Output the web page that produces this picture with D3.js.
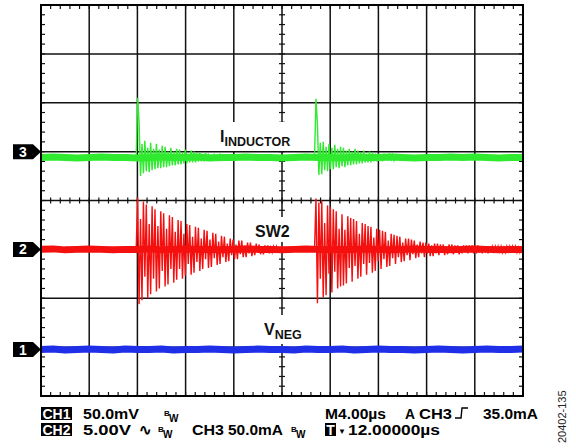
<!DOCTYPE html>
<html>
<head>
<meta charset="utf-8">
<script src="https://cdn.jsdelivr.net/npm/d3@7"></script>
<style>
  body { margin: 0; background: #fff; }
  svg { display: block; }
  text { font-family: "Liberation Sans", Arial, sans-serif; }
</style>
</head>
<body>
<svg width="576" height="448"></svg>
<script>
// scope settings: 4us/div, 10 x 8 divisions
var timeDomain = [0, 40];
var divDomain = [-4, 4];

// channels 1,2,3: units per div, ground marker (divs), colour
var chNames = ["1", "2", "3"];
var chScale = [50, 5, 50];      // mV, V, mA per div
var chGround = [-3.05, -1.0, 1.0];
var chColor = ["#1f2fe8", "#f51010", "#2fea2f"];

// baseline (noise band centre) sampled every 1us, t = 0..40
var vnegBase = [0,0.5,-0.5,0,0.5,0,-0.5,0.5,0,0,0.5,-0.5,0,0,0.5,0,-0.5,0,0.5,0,0,-0.5,0.5,0,0,0.5,-0.5,0,0.5,0,0,-0.5,0,0.5,0,-0.5,0,0.5,0,0,0.5];
var sw2Base = [0,0.05,-0.05,0,0.05,0,-0.05,0,0,0.05,-0.05,0,0.05,0,0,-0.05,0,0.05,0,0,-0.05,0,0.05,0,-0.05,0,0,0.05,0,-0.05,0,0.05,0,0,-0.05,0,0.05,0,-0.05,0,0];
var indBase = [-6,-5.5,-6,-6.5,-6,-5.5,-6,-6,-6.5,-6,-5.5,-6,-6,-5.5,-6.5,-6,-6,-5.5,-6,-6,-6.5,-6,-5.5,-6,-6,-6.5,-5.5,-6,-6,-5.5,-6,-6.5,-6,-6,-5.5,-6,-5.5,-6,-6.5,-6,-6];

// ringing after each switching edge, one sample per half period
var ringStep = 0.12;
var burstStart = [7.9, 22.7];
var sw2Burst1 = [
  0,5.3,-5.6,3.1,-5.2,4.9,-2.8,4.6,-5.0,2.6,
  -4.6,4.4,-3.0,4.1,-4.3,2.4,-4.0,3.9,-2.2,3.7,
  -3.8,2.1,-3.6,3.5,-2.0,3.3,-3.4,1.8,-3.1,3.0,
  -2.0,2.9,-3.0,1.6,-2.7,2.6,-1.5,2.5,-2.6,1.3,
  -2.4,2.3,-1.3,2.2,-2.2,1.1,-2.0,2.0,-1.0,1.9,
  -1.9,1.0,-1.8,1.7,-0.9,1.6,-1.6,0.8,-1.5,1.4,
  -0.8,1.3,-1.3,0.6,-1.2,1.1,-0.6,1.0,-1.0,0.5,
  -1.0,0.9,-0.5,0.9,-0.8,0.4,-0.8,0.7,-0.4,0.7,
  -0.7,0.3,-0.6,0.6,-0.3,0.5,-0.5,0.3,-0.5,0.4,
  -0.2,0.4,-0.4,0.2,-0.3,0.3,-0.2,0.3,-0.2,0];
var sw2Burst2 = [
  0,5.2,-5.5,4.8,-3.0,5.0,-4.9,2.7,-4.7,4.5,
  -2.5,4.3,-4.4,4.1,-2.3,3.9,-4.0,2.1,-3.8,3.6,
  -3.7,2.0,-3.5,3.4,-1.9,3.2,-3.3,3.1,-1.7,2.9,
  -3.0,1.6,-2.8,2.7,-1.5,2.6,-2.6,2.4,-1.4,2.3,
  -2.4,1.2,-2.2,2.1,-1.2,2.0,-2.0,1.9,-1.0,1.8,
  -1.8,0.9,-1.7,1.6,-0.9,1.5,-1.5,1.4,-0.8,1.3,
  -1.3,0.7,-1.2,1.1,-0.6,1.1,-1.1,1.0,-0.5,0.9,
  -0.9,0.5,-0.8,0.8,-0.4,0.7,-0.8,0.7,-0.4,0.6,
  -0.7,0.4,-0.7,0.6,-0.4,0.6,-0.6,0.5,-0.3,0.5,
  -0.6,0.3,-0.5,0.5,-0.3,0.5,-0.5,0.4,-0.3,0.4,
  -0.5,0.3,-0.4,0.4,-0.3,0.4,-0.4,0.4,-0.2,0.4,
  -0.4,0.2,-0.4,0.4,-0.3,0.3,-0.4,0.3,-0.2,0.3,
  -0.4,0.3,-0.3,0.3,-0.2,0.3,-0.3,0.3,-0.2,0.3,
  -0.3,0.2,-0.3,0.3,-0.2,0.3,-0.3,0.3,-0.2,0.3,
  -0.3,0.2,-0.3,0.2,-0.1];
var indBurst1 = [
  -6,55,30,-25,8,-22,11,-20,4,-21,
  9,-19,3,-18,8,-17,2,-17,6,-16,
  5,-16,0,-15,4,-14,0,-14,3,-13,
  2,-13,-1,-12,2,-12,-2,-11,1,-11,
  0,-11,-2,-10,-1,-10,-3,-10,-1,-9,
  -2,-9,-3,-9,-2,-9,-4,-8,-3,-8,
  -4,-8,-4,-7,-4,-8,-5,-7,-5,-7];
var indBurst2 = [
  -6,54,28,-24,9,-23,10,-19,5,-20,
  8,-18,4,-18,7,-16,3,-17,5,-15,
  4,-16,1,-14,3,-14,0,-13,3,-13,
  1,-12,-1,-12,1,-11,-2,-11,0,-11,
  -1,-10,-2,-10,-2,-9,-3,-10,-2,-9,
  -3,-9,-3,-8,-3,-9,-4,-8,-4,-8,
  -4,-7,-5,-8,-5,-7,-5,-7,-6,-7];

var svg = d3.select("svg");
var x = d3.scaleLinear().domain(timeDomain).range([41, 523]);
var y = d3.scaleLinear().domain(divDomain).range([396, 5]);

// graticule
var grid = svg.append("g").attr("stroke", "#111").attr("stroke-width", 1.5);
grid.selectAll(".vx").data(d3.range(1, 10)).enter().append("line")
  .attr("x1", d => x(d * 4)).attr("x2", d => x(d * 4))
  .attr("y1", y(4)).attr("y2", y(-4));
grid.selectAll(".hy").data(d3.range(-3, 4)).enter().append("line")
  .attr("y1", d => y(d)).attr("y2", d => y(d))
  .attr("x1", x(0)).attr("x2", x(40));

// minor ticks, 5 per division
var ticks = svg.append("g").attr("stroke", "#111").attr("stroke-width", 1.2);
var tx = d3.range(0.8, 40, 0.8), ty = d3.range(-3.8, 4, 0.2);
tx.forEach(function(t) {
  ticks.append("line").attr("x1", x(t)).attr("x2", x(t)).attr("y1", y(4)).attr("y2", y(4) + 4);
  ticks.append("line").attr("x1", x(t)).attr("x2", x(t)).attr("y1", y(-4)).attr("y2", y(-4) - 4);
  ticks.append("line").attr("x1", x(t)).attr("x2", x(t)).attr("y1", y(0) - 3).attr("y2", y(0) + 3);
});
ty.forEach(function(v) {
  ticks.append("line").attr("y1", y(v)).attr("y2", y(v)).attr("x1", x(0)).attr("x2", x(0) + 4);
  ticks.append("line").attr("y1", y(v)).attr("y2", y(v)).attr("x1", x(40)).attr("x2", x(40) - 4);
  ticks.append("line").attr("y1", y(v)).attr("y2", y(v)).attr("x1", x(20) - 3).attr("x2", x(20) + 3);
});

// trace labels (white box behind)
var labels = svg.append("g");
function traceLabel(px, py, main, sub) {
  var g = labels.append("g");
  var bg = g.append("rect").attr("fill", "#fff");
  var t = g.append("text").attr("x", px).attr("y", py)
    .attr("font-weight", "bold").attr("font-size", 16).attr("fill", "#111");
  t.append("tspan").text(main);
  if (sub) t.append("tspan").attr("font-size", 12.5).attr("dy", 4).text(sub);
  var b = t.node().getBBox();
  bg.attr("x", b.x - 2).attr("y", b.y - 6).attr("width", b.width + 4).attr("height", b.height + 8);
}
traceLabel(220, 142, "I", "INDUCTOR");
traceLabel(255, 237, "SW2", null);
traceLabel(264, 335, "V", "NEG");

// traces
svg.append("clipPath").attr("id", "plot").append("rect")
  .attr("x", 41).attr("y", 5).attr("width", 482).attr("height", 391);
var traces = svg.append("g").attr("clip-path", "url(#plot)");

function chY(ch, v) { return y(chGround[ch] + v / chScale[ch]); }

function drawBase(ch, base) {
  var line = d3.line().x((d, i) => x(i)).y(d => chY(ch, d));
  traces.append("path").datum(base).attr("d", line)
    .attr("fill", "none").attr("stroke", chColor[ch])
    .attr("stroke-width", 7).attr("stroke-linejoin", "round");
}
function drawBurst(ch, start, vals) {
  var line = d3.line().x((d, i) => x(start + i * ringStep)).y(d => chY(ch, d));
  traces.append("path").datum(vals).attr("d", line)
    .attr("fill", "none").attr("stroke", chColor[ch]).attr("stroke-width", 1.4);
}

drawBase(0, vnegBase);
drawBase(1, sw2Base);
drawBurst(1, burstStart[0], sw2Burst1);
drawBurst(1, burstStart[1], sw2Burst2);
drawBase(2, indBase);
drawBurst(2, burstStart[0], indBurst1);
drawBurst(2, burstStart[1], indBurst2);

labels.raise();

// border
svg.append("rect").attr("x", 41).attr("y", 5).attr("width", 482).attr("height", 391)
  .attr("fill", "none").attr("stroke", "#000").attr("stroke-width", 2);

// channel ground markers
chNames.forEach(function(n, i) {
  var c = y(chGround[i]);
  svg.append("path")
    .attr("d", "M13," + (c - 7.5) + "L33," + (c - 7.5) + "L41," + c + "L33," + (c + 7.5) + "L13," + (c + 7.5) + "Z")
    .attr("fill", "#000");
  svg.append("text").attr("x", 23).attr("y", c + 5).attr("text-anchor", "middle")
    .attr("font-weight", "bold").attr("font-size", 14).attr("fill", "#fff").text(n);
});

// readout
var ro = svg.append("g").attr("font-weight", "bold").attr("fill", "#000");
function boxText(px, py, w, s) {
  ro.append("rect").attr("x", px).attr("y", py - 12).attr("width", w).attr("height", 13).attr("fill", "#000");
  ro.append("text").attr("x", px + w / 2).attr("y", py).attr("text-anchor", "middle")
    .attr("fill", "#fff").attr("font-size", 14).text(s);
}
function txt(px, py, s, size, len) {
  var t = ro.append("text").attr("x", px).attr("y", py).attr("font-size", size || 14).text(s);
  if (len) t.attr("textLength", len).attr("lengthAdjust", "spacingAndGlyphs");
  return t;
}
function bw(px, py) {
  txt(px, py - 3, "B", 8);
  txt(px + 5, py + 3, "W", 10);
}
var l1 = 419, l2 = 435;
boxText(41, l1, 31, "CH1");
txt(83, l1, "50.0mV", 14, 56);
bw(164, l1);
txt(325, l1, "M4.00\u00b5s", 14, 61);
txt(405, l1, "A", 14, 10);
txt(419, l1, "CH3", 14, 33);
ro.append("path").attr("d", "M455," + (l1 - 1) + "H461L462," + (l1 - 11) + "H468")
  .attr("fill", "none").attr("stroke", "#000").attr("stroke-width", 1.4);
txt(483, l1, "35.0mA", 14, 55);

boxText(41, l2, 31, "CH2");
txt(83, l2, "5.00V", 14, 48);
ro.append("text").attr("x", 139).attr("y", l2).attr("font-family", "DejaVu Sans")
  .attr("font-size", 15).text("\u223f");
bw(158, l2);
txt(192, l2, "CH3", 14, 32);
txt(228, l2, "50.0mA", 14, 55);
bw(291, l2);
boxText(325, l2, 11, "T");
txt(338, l2 - 1, "\u25bc", 8);
txt(348, l2, "12.00000\u00b5s", 14, 92);

svg.append("text").attr("transform", "translate(566,443) rotate(-90)")
  .attr("font-size", 11).attr("fill", "#222").text("20402-135");
</script>
</body>
</html>
